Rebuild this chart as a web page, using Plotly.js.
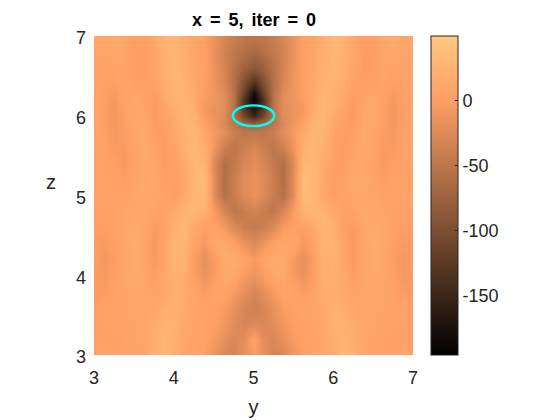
<!DOCTYPE html>
<html>
<head>
<meta charset="utf-8">
<script src="https://cdn.plot.ly/plotly-3.0.1.min.js"></script>
<style>html,body{margin:0;padding:0;background:#fff}.gtitle{word-spacing:3px}</style>
</head>
<body>
<div id="chart" style="width:560px;height:420px"></div>
<script>
const yCoords = [3,3.125,3.25,3.375,3.5,3.625,3.75,3.875,4,4.125,4.25,4.375,4.5,4.625,4.75,4.875,5,5.125,5.25,5.375,5.5,5.625,5.75,5.875,6,6.125,6.25,6.375,6.5,6.625,6.75,6.875,7];
const zCoords = [3,3.2,3.4,3.6,3.8,4,4.2,4.4,4.6,4.8,5,5.2,5.4,5.6,5.8,5.9,6,6.1,6.2,6.3,6.4,6.6,6.8,7];
const field = [
[4,6,4,5,6,8,20,28,18,8,4,0,-12,-28,-32,-16,-4,-16,-32,-28,-12,0,4,8,16,28,20,8,6,5,4,6,4],
[2,3,2,4,8,10,18,28,20,10,6,4,-4,-16,-28,-20,4,-20,-28,-16,-4,4,6,10,20,28,18,10,8,4,2,3,2],
[2,4,5,6,8,10,16,24,24,12,8,5,0,-8,-22,-30,-28,-30,-22,-8,0,5,8,12,24,24,16,10,8,6,5,4,2],
[0,4,6,8,10,10,12,18,22,16,8,6,4,-2,-16,-30,-36,-30,-16,-2,4,6,8,16,22,18,12,10,10,8,6,4,0],
[-4,-2,4,8,12,10,6,10,20,18,6,-4,6,8,-4,-18,-28,-18,-4,8,6,-4,6,18,20,10,6,10,12,8,4,-2,-4],
[-4,-6,2,8,12,8,0,12,22,20,0,-14,-4,12,10,-4,-12,-4,10,12,-4,-14,0,20,22,12,0,8,12,8,2,-6,-4],
[0,-8,-2,8,14,6,-6,10,26,24,-2,-18,-4,14,16,6,-6,6,16,14,-4,-18,-2,24,26,10,-6,6,14,8,-2,-8,0],
[-2,-4,2,10,16,8,-6,8,28,28,6,-8,12,12,2,-14,-24,-14,2,12,12,-8,6,28,28,8,-6,8,16,10,2,-4,-2],
[2,0,4,10,14,10,-4,2,24,30,14,2,4,-6,-26,-40,-44,-40,-26,-6,4,2,14,30,24,2,-4,10,14,10,4,0,2],
[4,2,4,8,12,12,6,2,14,26,30,24,-4,-30,-50,-42,-34,-42,-50,-30,-4,24,30,26,14,2,6,12,12,8,4,2,4],
[8,6,6,4,8,10,12,6,0,12,30,34,-22,-55,-42,-24,-16,-24,-42,-55,-22,34,30,12,0,6,12,10,8,4,6,6,8],
[6,4,4,0,6,10,14,2,0,12,30,38,-22,-60,-40,-22,-15,-22,-40,-60,-22,38,30,12,0,2,14,10,6,0,4,4,6],
[6,4,2,-4,4,12,10,-2,2,14,32,30,-26,-60,-45,-28,-20,-28,-45,-60,-26,30,32,14,2,-2,10,12,4,-4,2,4,6],
[8,6,-4,-4,6,14,6,-2,6,20,32,20,-12,-38,-50,-38,-30,-38,-50,-38,-12,20,32,20,6,-2,6,14,6,-4,-4,6,8],
[8,2,-6,-2,8,14,0,0,10,26,28,10,-6,-20,-40,-50,-48,-50,-40,-20,-6,10,28,26,10,0,0,14,8,-2,-6,2,8],
[8,0,-8,0,10,12,-2,2,12,28,28,4,-10,-28,-50,-65,-75,-65,-50,-28,-10,4,28,28,12,2,-2,12,10,0,-8,0,8],
[8,0,-8,0,12,10,-4,4,16,30,24,-4,-14,-22,-55,-110,-150,-110,-55,-22,-14,-4,24,30,16,4,-4,10,12,0,-8,0,8],
[8,0,-8,2,12,8,-4,6,20,30,20,-8,-14,-20,-55,-130,-175,-130,-55,-20,-14,-8,20,30,20,6,-4,8,12,2,-8,0,8],
[8,2,-6,4,10,6,-2,10,24,30,16,-4,-10,-22,-55,-135,-195,-135,-55,-22,-10,-4,16,30,24,10,-2,6,10,4,-6,2,8],
[8,2,-4,6,8,4,0,14,26,28,14,0,-10,-24,-55,-115,-175,-115,-55,-24,-10,0,14,28,26,14,0,4,8,6,-4,2,8],
[8,4,0,8,2,2,4,18,28,26,12,2,-12,-28,-58,-100,-140,-100,-58,-28,-12,2,12,26,28,18,4,2,2,8,0,4,8],
[8,6,6,8,0,-2,8,22,30,22,10,4,-14,-32,-54,-76,-88,-76,-54,-32,-14,4,10,22,30,22,8,-2,0,8,6,6,8],
[10,8,12,8,0,0,8,24,30,20,8,4,-16,-34,-48,-58,-64,-58,-48,-34,-16,4,8,20,30,24,8,0,0,8,12,8,10],
[10,8,14,10,2,2,10,26,28,16,8,2,-14,-30,-40,-48,-50,-48,-40,-30,-14,2,8,16,28,26,10,2,2,10,14,8,10]
];
const tickVals = [3,4,5,6,7];
const barTicks = [0,-50,-100,-150];
const copper = [
[0,'rgb(0,0,0)'],[0.25,'rgb(80,50,32)'],[0.5,'rgb(159,100,63)'],
[0.8,'rgb(255,159,101)'],[1,'rgb(255,199,127)']
];
const ring = {cy:5, cz:6, ry:0.26, rz:0.13};
const ink = '#262626';
const face = 'Liberation Sans, Arial, sans-serif';
Plotly.newPlot('chart',[{
  type:'heatmap', x:yCoords, y:zCoords, z:field,
  zmin:-196, zmax:50, zsmooth:'best', colorscale:copper,
  hoverinfo:'skip',
  colorbar:{
    thickness:27, thicknessmode:'pixels', len:1, lenmode:'fraction',
    x:(431-94)/319, xanchor:'left',
    y:0, yanchor:'bottom',
    xpad:0, ypad:0,
    tickvals:barTicks, ticktext:barTicks.map(String),
    ticks:'inside', ticklen:3, tickcolor:ink, tickwidth:1,
    outlinecolor:ink, outlinewidth:1,
    ticklabelstandoff:6,
    tickfont:{family:face,size:18,color:ink}
  }
}],{
  width:560,height:420,
  margin:{l:94,r:147,t:36,b:65},
  paper_bgcolor:'#fff', plot_bgcolor:'#fff',
  title:{text:'<b>x = 5, iter = 0</b>',x:254/560,xanchor:'center',y:1-20/420,yanchor:'middle',font:{family:face,size:18,color:'#000'}},
  xaxis:{range:[3,7],tickvals:tickVals,ticks:'inside',ticklen:3,tickcolor:ink,layer:'below traces',showgrid:false,zeroline:false,showline:false,
    ticklabelstandoff:10,
    tickfont:{family:face,size:18,color:ink},
    title:{text:'y',font:{family:face,size:20,color:ink},standoff:12}},
  yaxis:{range:[3,7],tickvals:tickVals,ticks:'inside',ticklen:3,tickcolor:ink,layer:'below traces',showgrid:false,zeroline:false,showline:false,
    ticklabelstandoff:7, ticklabelshift:2,
    tickfont:{family:face,size:18,color:ink}},
  annotations:[{text:'z',xref:'paper',yref:'paper',x:-43/319,y:(355-182)/319,xanchor:'center',yanchor:'middle',showarrow:false,
    font:{family:face,size:20,color:ink}}],
  shapes:[{type:'circle',xref:'x',yref:'y',
    x0:ring.cy-ring.ry,x1:ring.cy+ring.ry,y0:ring.cz-ring.rz,y1:ring.cz+ring.rz,
    line:{color:'#00ffff',width:2.4}}]
},{displayModeBar:false,staticPlot:true});
</script>
</body>
</html>
